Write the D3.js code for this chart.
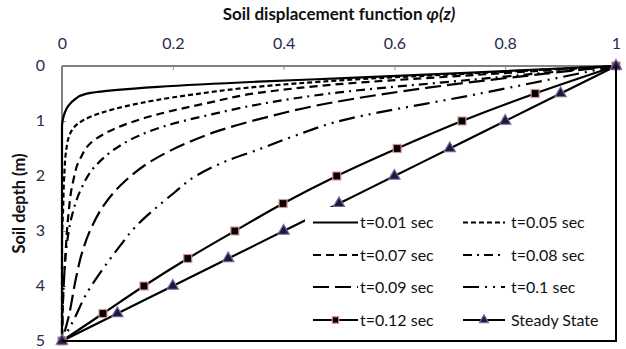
<!DOCTYPE html>
<html>
<head>
<meta charset="utf-8">
<script src="https://cdn.jsdelivr.net/npm/d3@7"></script>
<style>
  body { margin: 0; background: #fff; }
  svg { display: block; font-family: Lato, "Open Sans", sans-serif; }
</style>
</head>
<body>
<div id="chart"></div>
<script>
const width = 626
const height = 349
const margin = { top: 66, right: 10, bottom: 8, left: 62 }

const xTicks = [0, 0.2, 0.4, 0.6, 0.8, 1]
const yTicks = [0, 1, 2, 3, 4, 5]

// depth z (m) and phi values
const depthT01 = [0, 0.12, 0.22, 0.285, 0.38, 0.44, 0.49, 0.53, 0.6, 0.73, 0.85, 1.0, 1.1, 5]
const phiT01 = [1, 0.74, 0.51, 0.354, 0.173, 0.095, 0.052, 0.036, 0.024, 0.011, 0.005, 0.001, 0, 0]

const depthT05 = [0, 0.13, 0.25, 0.32, 0.4, 0.52, 0.62, 0.72, 0.86, 1.0, 1.2, 1.5, 2.0, 2.6, 3.2, 5]
const phiT05 = [1, 0.75, 0.52, 0.42, 0.33, 0.235, 0.17, 0.12, 0.068, 0.036, 0.016, 0.008, 0.004, 0.002, 0, 0]

const depthT07 = [0, 0.16, 0.33, 0.49, 0.67, 0.86, 1.07, 1.32, 1.7, 2.1, 2.76, 3.48, 4.2, 5]
const phiT07 = [1, 0.75, 0.5, 0.354, 0.264, 0.18, 0.112, 0.062, 0.032, 0.02, 0.011, 0.006, 0.002, 0]

const depthT08 = [0, 0.24, 0.48, 0.7, 0.88, 1.05, 1.26, 1.5, 1.82, 2.27, 2.76, 3.3, 4.0, 5]
const phiT08 = [1, 0.75, 0.5, 0.354, 0.27, 0.2, 0.14, 0.097, 0.06, 0.033, 0.017, 0.008, 0.003, 0]

const depthT09 = [0, 0.39, 0.66, 0.97, 1.18, 1.42, 1.73, 2.09, 2.51, 2.94, 3.4, 3.87, 4.6, 5]
const phiT09 = [1, 0.664, 0.49, 0.354, 0.282, 0.221, 0.161, 0.114, 0.077, 0.053, 0.036, 0.025, 0.011, 0]

const depthT10 = [0, 0.5, 1.03, 1.27, 1.52, 1.73, 1.99, 2.3, 2.62, 2.94, 3.28, 3.63, 4.18, 4.6, 5]
const phiT10 = [1, 0.755, 0.49, 0.42, 0.354, 0.296, 0.243, 0.203, 0.165, 0.131, 0.104, 0.078, 0.042, 0.022, 0]

const depthMarks = [0, 0.5, 1, 1.5, 2, 2.5, 3, 3.5, 4, 4.5, 5]
const phiT12 = [1, 0.854, 0.722, 0.605, 0.496, 0.399, 0.312, 0.227, 0.148, 0.074, 0]
const phiSteady = [1, 0.9, 0.8, 0.7, 0.6, 0.5, 0.4, 0.3, 0.2, 0.1, 0]

const zip = (zs, ps) => zs.map((z, i) => ({ z, p: ps[i] }))

const series = [
  { name: 't=0.01 sec', pts: zip(depthT01, phiT01), dash: null },
  { name: 't=0.05 sec', pts: zip(depthT05, phiT05), dash: '5,3' },
  { name: 't=0.07 sec', pts: zip(depthT07, phiT07), dash: '8,5' },
  { name: 't=0.08 sec', pts: zip(depthT08, phiT08), dash: '9,5,2,5' },
  { name: 't=0.09 sec', pts: zip(depthT09, phiT09), dash: '16,6' },
  { name: 't=0.1 sec', pts: zip(depthT10, phiT10), dash: '16,6,2,6,2,6' },
  { name: 't=0.12 sec', pts: zip(depthMarks, phiT12), dash: null, marker: 'square' },
  { name: 'Steady State', pts: zip(depthMarks, phiSteady), dash: null, marker: 'triangle' }
]

const svg = d3.select('#chart').append('svg').attr('width', width).attr('height', height)

const x = d3.scaleLinear().domain([0, 1]).range([margin.left, width - margin.right])
const y = d3.scaleLinear().domain([0, 5]).range([margin.top, height - margin.bottom])

const tickColor = '#1f2d4d'

// axes
const xAxis = svg.append('g')
  .attr('transform', `translate(0,${margin.top})`)
  .call(d3.axisTop(x).tickValues(xTicks).tickFormat(d3.format('~g')).tickSizeInner(-4).tickSizeOuter(0).tickPadding(17))
xAxis.select('.domain').remove()
xAxis.selectAll('line').attr('stroke', '#8c8c8c')
xAxis.selectAll('text').attr('font-size', 16).attr('fill', tickColor).attr('font-family', 'Lato, sans-serif')

const yAxis = svg.append('g')
  .attr('transform', `translate(${margin.left},0)`)
  .call(d3.axisLeft(y).tickValues(yTicks).tickFormat(d3.format('d')).tickSizeInner(-4).tickSizeOuter(0).tickPadding(17))
yAxis.select('.domain').remove()
yAxis.selectAll('line').attr('stroke', '#8c8c8c')
yAxis.selectAll('text').attr('font-size', 16).attr('fill', tickColor).attr('font-family', 'Lato, sans-serif').attr('dy', '0.28em')

// plot frame: grey top/left, black bottom/right
const [x0, x1] = x.range()
const [y0, y1] = y.range()
svg.append('line').attr('x1', x0).attr('x2', x1).attr('y1', y0).attr('y2', y0).attr('stroke', '#808080').attr('stroke-width', 2)
svg.append('line').attr('x1', x0).attr('x2', x0).attr('y1', y0).attr('y2', y1).attr('stroke', '#808080').attr('stroke-width', 2)

// titles
const title = svg.append('text')
  .attr('x', (x0 + x1) / 2).attr('y', 20)
  .attr('text-anchor', 'middle')
  .attr('font-size', 17).attr('font-weight', 'bold').attr('fill', '#111')
title.append('tspan').text('Soil displacement function ')
title.append('tspan').attr('font-style', 'italic').text('φ(z)')

svg.append('text')
  .attr('transform', `translate(25,${(y0 + y1) / 2}) rotate(-90)`)
  .attr('text-anchor', 'middle')
  .attr('font-size', 16.5).attr('font-weight', 'bold').attr('fill', '#111')
  .text('Soil depth (m)')

// curves
const line = d3.line().x(d => x(d.p)).y(d => y(d.z)).curve(d3.curveMonotoneY)

svg.append('g')
  .selectAll('path')
  .data(series)
  .join('path')
  .attr('fill', 'none')
  .attr('stroke', '#000')
  .attr('stroke-width', 2.2)
  .attr('stroke-dasharray', d => d.dash)
  .attr('d', d => line(d.pts))

const squareFill = '#000', squareStroke = '#d99694'
const triFill = '#1b1b3a', triStroke = '#8064a2'
const sym = d3.symbol()

function drawMarker(sel, kind, size) {
  if (kind === 'square') {
    sel.append('rect')
      .attr('x', -size / 2).attr('y', -size / 2).attr('width', size).attr('height', size)
      .attr('fill', squareFill).attr('stroke', squareStroke).attr('stroke-width', 1.2)
  } else {
    sel.append('path')
      .attr('d', sym.type(d3.symbolTriangle).size(size * size * 0.55)())
      .attr('fill', triFill).attr('stroke', triStroke).attr('stroke-width', 1.2)
  }
}

series.filter(s => s.marker).forEach(s => {
  svg.append('g')
    .selectAll('g')
    .data(s.pts)
    .join('g')
    .attr('transform', d => `translate(${x(d.p)},${y(d.z)})`)
    .each(function () { drawMarker(d3.select(this), s.marker, s.marker === 'square' ? 8 : 10) })
})

// frame bottom / right on top
svg.append('line').attr('x1', x0).attr('x2', x1 + 1).attr('y1', y1).attr('y2', y1).attr('stroke', '#000').attr('stroke-width', 2)
svg.append('line').attr('x1', x1).attr('x2', x1).attr('y1', y0).attr('y2', y1).attr('stroke', '#000').attr('stroke-width', 2)

// legend
const legendRows = [222.5, 255, 287, 320]
const legendCols = [{ lx0: 313, lx1: 358, tx: 360 }, { lx0: 463, lx1: 505, tx: 511 }]
const legendOrder = [
  ['t=0.01 sec', 't=0.05 sec'],
  ['t=0.07 sec', 't=0.08 sec'],
  ['t=0.09 sec', 't=0.1 sec'],
  ['t=0.12 sec', 'Steady State']
]

const legend = svg.append('g')
legend.append('rect')
  .attr('x', 305).attr('y', 207).attr('width', x1 - 306).attr('height', y1 - 208)
  .attr('fill', '#fff')

legendOrder.forEach((row, ri) => {
  row.forEach((name, ci) => {
    const s = series.find(d => d.name === name)
    const c = legendCols[ci]
    const ly = legendRows[ri]
    const g = legend.append('g')
    g.append('line')
      .attr('x1', c.lx0).attr('x2', c.lx1).attr('y1', ly).attr('y2', ly)
      .attr('stroke', '#000').attr('stroke-width', 2.2)
      .attr('stroke-dasharray', s.dash)
    if (s.marker) {
      const m = g.append('g').attr('transform', `translate(${(c.lx0 + c.lx1) / 2},${ly})`)
      drawMarker(m, s.marker, s.marker === 'square' ? 6.5 : 8)
    }
    g.append('text')
      .attr('x', c.tx).attr('y', ly).attr('dy', '0.35em')
      .attr('font-size', 16).attr('fill', '#111')
      .text(name)
  })
})
</script>
</body>
</html>
